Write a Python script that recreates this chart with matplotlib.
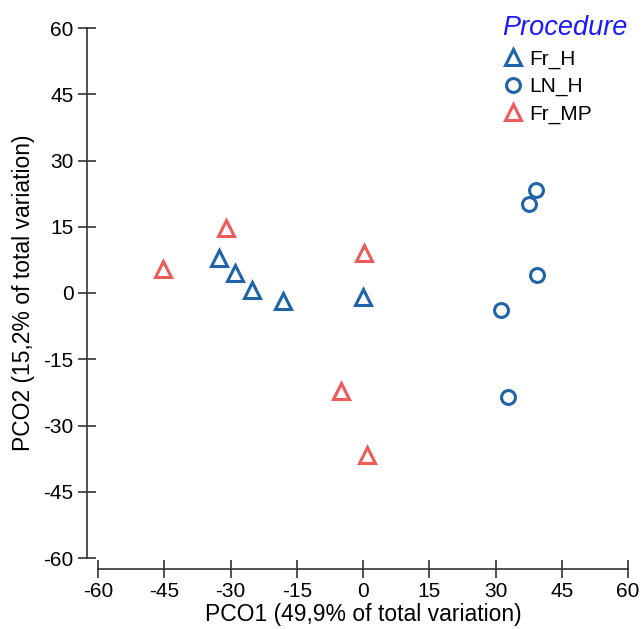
import numpy as np
import matplotlib.pyplot as plt

plt.rcParams['font.family'] = ['Liberation Sans', 'DejaVu Sans']
plt.rcParams['axes.unicode_minus'] = False

# data
fr_h_x = [-32.5, -29.0, -25.2, -18.2, 0.1]
fr_h_y = [8.0, 4.5, 0.7, -1.8, -1.0]
ln_h_x = [39.2, 37.6, 39.4, 31.3, 32.9]
ln_h_y = [23.3, 20.1, 4.1, -3.8, -23.5]
fr_mp_x = [-45.3, -31.1, 0.3, -4.9, 0.8]
fr_mp_y = [5.4, 14.7, 9.0, -22.2, -36.7]
ticks = [-60, -45, -30, -15, 0, 15, 30, 45, 60]

blue = '#1f63a8'
red = '#f05a5a'

fig = plt.figure(figsize=(6.43, 6.29), dpi=100)
ax = fig.add_axes([98/643, 1 - 558/629, 530/643, 530/629])

ax.plot(fr_h_x, fr_h_y, ls='none', marker='^', ms=11, mfc='none', mec=blue, mew=2.2, label='Fr_H')
ax.plot(ln_h_x, ln_h_y, ls='none', marker='o', ms=10, mfc='none', mec=blue, mew=2.2, label='LN_H')
ax.plot(fr_mp_x, fr_mp_y, ls='none', marker='^', ms=11, mfc='none', mec=red, mew=2.2, label='Fr_MP')

ax.set_xlim(-60, 60)
ax.set_ylim(-60, 60)
ax.set_xticks(ticks)
ax.set_yticks(ticks)
ax.spines['top'].set_visible(False)
ax.spines['right'].set_visible(False)
ax.spines['left'].set_position(('outward', 8))
ax.spines['bottom'].set_position(('outward', 8))
for s in ['left', 'bottom']:
    ax.spines[s].set_color('#333333')
    ax.spines[s].set_linewidth(1.2)
ax.tick_params(direction='inout', length=13, width=1.2, color='#333333', labelsize=15, pad=3)

ax.set_xlabel('PCO1 (49,9% of total variation)', fontsize=16.5, labelpad=1)
ax.set_ylabel('PCO2 (15,2% of total variation)', fontsize=16.5, labelpad=6)

leg = ax.legend(loc='upper right', bbox_to_anchor=(1.015, 1.04), frameon=False, fontsize=15,
                title='Procedure', alignment='left', handletextpad=0.3, labelspacing=0.4,
                handlelength=1.0, borderaxespad=0)
leg.get_title().set_color('#1a1aff')
leg.get_title().set_fontsize(19.5)
leg.get_title().set_fontstyle('italic')

fig.savefig('out.png', dpi=100)
